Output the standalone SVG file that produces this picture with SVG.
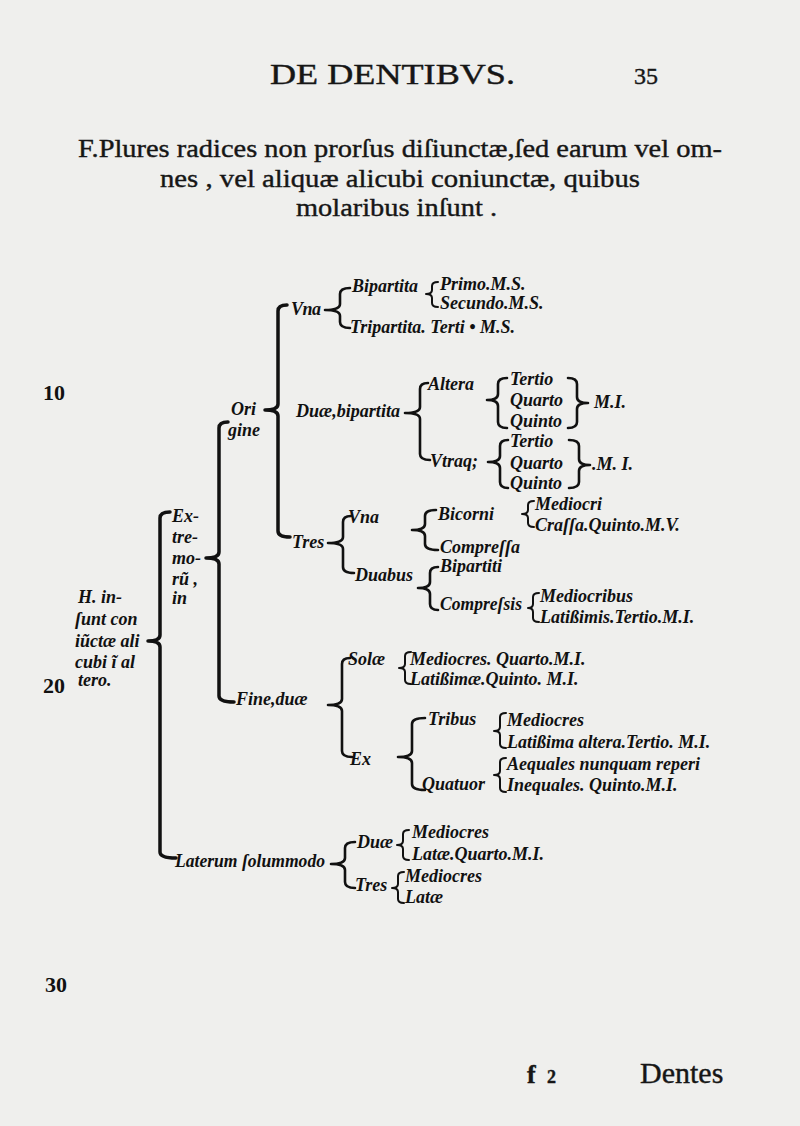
<svg xmlns="http://www.w3.org/2000/svg" width="800" height="1126" viewBox="0 0 800 1126">
<style>
.bg{fill:#efefed}
.hd{font-family:"Liberation Serif",serif;fill:#161616;stroke:#161616;stroke-width:0.4}
.t{font-family:"Liberation Serif",serif;font-style:italic;font-weight:bold;font-size:18px;fill:#111}
.num{font-family:"Liberation Serif",serif;font-weight:bold;font-size:22px;fill:#111}
.b{fill:none;stroke:#111;stroke-width:3.5;stroke-linecap:round;stroke-linejoin:round}
.m{fill:none;stroke:#111;stroke-width:2.6;stroke-linecap:round;stroke-linejoin:round}
.s{fill:none;stroke:#111;stroke-width:2;stroke-linecap:round;stroke-linejoin:round}
</style>
<rect class="bg" x="0" y="0" width="800" height="1126"/>

<g id="header">
<text class="hd" x="270" y="84" font-size="30" textLength="245" lengthAdjust="spacingAndGlyphs">DE DENTIBVS.</text>
<text class="hd" x="634" y="84" font-size="24">35</text>
</g>

<g id="title">
<text class="hd" x="78" y="157" font-size="26" textLength="644" lengthAdjust="spacingAndGlyphs">F.Plures radices non prorſus diſiunctæ,ſed earum vel om-</text>
<text class="hd" x="160" y="187" font-size="26" textLength="480" lengthAdjust="spacingAndGlyphs">nes , vel aliquæ alicubi coniunctæ, quibus</text>
<text class="hd" x="296" y="216" font-size="26" textLength="201" lengthAdjust="spacingAndGlyphs">molaribus inſunt .</text>
</g>

<g id="line-numbers">
<text class="num" x="43" y="400">10</text>
<text class="num" x="43" y="693">20</text>
<text class="num" x="45" y="992">30</text>
</g>

<g id="connectors">
<path class="b" d="M170 512 Q160 512 160 518 L160 635 Q160 641 148 641 Q160 641 160 647 L160 852 Q160 858 176 858"/>
<path class="b" d="M228 422 Q219 422 219 428 L219 552 Q219 558 206 558 Q219 558 219 564 L219 696 Q219 702 234 702"/>
<path class="b" d="M287 305 Q278 305 278 311 L278 404 Q278 410 265 410 Q278 410 278 416 L278 531 Q278 537 290 537"/>
<path class="m" d="M350 288 Q340 288 340 294 L340 304 Q340 310 325 310 Q340 310 340 316 L340 322 Q340 328 350 328"/>
<path class="s" d="M438 282 Q432 282 432 286 L432 290 Q432 294 426 294 Q432 294 432 298 L432 303 Q432 307 438 307"/>
<path class="m" d="M428 383 Q420 383 420 389 L420 407 Q420 413 405 413 Q420 413 420 419 L420 454 Q420 460 430 460"/>
<path class="m" d="M507 378 Q498 378 498 384 L498 394 Q498 400 487 400 Q498 400 498 406 L498 422 Q498 428 507 428"/>
<path class="m" d="M568 378 Q577 378 577 384 L577 397 Q577 403 588 403 Q577 403 577 409 L577 422 Q577 428 568 428"/>
<path class="m" d="M508 440 Q500 440 500 446 L500 456 Q500 462 488 462 Q500 462 500 468 L500 482 Q500 488 508 488"/>
<path class="m" d="M569 440 Q579 440 579 446 L579 459 Q579 465 590 465 Q579 465 579 471 L579 482 Q579 488 569 488"/>
<path class="m" d="M351 516 Q343 516 343 522 L343 537 Q343 543 328 543 Q343 543 343 549 L343 567 Q343 573 354 573"/>
<path class="m" d="M436 510 Q425 510 425 516 L425 524 Q425 530 412 530 Q425 530 425 536 L425 544 Q425 550 438 550"/>
<path class="s" d="M534 501 Q528 501 528 505 L528 510 Q528 514 522 514 Q528 514 528 518 L528 523 Q528 527 534 527"/>
<path class="m" d="M438 567 Q430 567 430 573 L430 582 Q430 588 418 588 Q430 588 430 594 L430 604 Q430 610 438 610"/>
<path class="s" d="M539 593 Q533 593 533 597 L533 604 Q533 608 528 608 Q533 608 533 612 L533 618 Q533 622 539 622"/>
<path class="m" d="M350 658 Q342 658 342 664 L342 699 Q342 705 328 705 Q342 705 342 711 L342 751 Q342 757 352 757"/>
<path class="s" d="M411 652 Q405 652 405 656 L405 664 Q405 668 399 668 Q405 668 405 672 L405 680 Q405 684 411 684"/>
<path class="m" d="M425 718 Q412 718 412 724 L412 751 Q412 757 398 757 Q412 757 412 763 L412 784 Q412 790 425 790"/>
<path class="s" d="M506 713 Q500 713 500 717 L500 727 Q500 731 494 731 Q500 731 500 735 L500 744 Q500 748 506 748"/>
<path class="s" d="M506 758 Q500 758 500 762 L500 771 Q500 775 494 775 Q500 775 500 779 L500 788 Q500 792 506 792"/>
<path class="m" d="M355 842 Q345 842 345 848 L345 858 Q345 864 331 864 Q345 864 345 870 L345 882 Q345 888 355 888"/>
<path class="s" d="M409 830 Q403 830 403 834 L403 841 Q403 845 397 845 Q403 845 403 849 L403 856 Q403 860 409 860"/>
<path class="s" d="M404 872 Q398 872 398 876 L398 884 Q398 888 392 888 Q398 888 398 892 L398 899 Q398 903 404 903"/>
</g>

<g id="node-root">
<text class="t" x="78" y="603">H. in-</text>
<text class="t" x="75" y="625">ſunt con</text>
<text class="t" x="75" y="647">iũctæ ali</text>
<text class="t" x="75" y="668">cubi ĩ al</text>
<text class="t" x="78" y="686">tero.</text>
</g>

<g id="node-extremorum">
<text class="t" x="172" y="522">Ex-</text>
<text class="t" x="172" y="543">tre-</text>
<text class="t" x="172" y="564">mo-</text>
<text class="t" x="172" y="585">rũ ,</text>
<text class="t" x="172" y="604">in</text>
</g>

<g id="node-origine">
<text class="t" x="231" y="415">Ori</text>
<text class="t" x="228" y="436">gine</text>
</g>

<g id="node-vna"><text class="t" x="291" y="315" textLength="30">Vna</text></g>
<g id="node-bipartita"><text class="t" x="352" y="292">Bipartita</text></g>
<g id="node-primo"><text class="t" x="440" y="290" font-size="15">Primo.M.S.</text></g>
<g id="node-secundo"><text class="t" x="440" y="309" font-size="15">Secundo.M.S.</text></g>
<g id="node-tripartita"><text class="t" x="350" y="333">Tripartita. Terti • M.S.</text></g>

<g id="node-duae-bipartita"><text class="t" x="296" y="417" textLength="104" lengthAdjust="spacingAndGlyphs">Duæ,bipartita</text></g>
<g id="node-altera"><text class="t" x="428" y="390">Altera</text></g>
<g id="node-altera-list">
<text class="t" x="510" y="385">Tertio</text>
<text class="t" x="510" y="406">Quarto</text>
<text class="t" x="510" y="427">Quinto</text>
</g>
<g id="node-altera-mi"><text class="t" x="594" y="408">M.I.</text></g>
<g id="node-vtraq"><text class="t" x="430" y="467">Vtraq;</text></g>
<g id="node-vtraq-list">
<text class="t" x="510" y="447">Tertio</text>
<text class="t" x="510" y="469">Quarto</text>
<text class="t" x="510" y="489">Quinto</text>
</g>
<g id="node-vtraq-mi"><text class="t" x="592" y="470">.M. I.</text></g>

<g id="node-tres"><text class="t" x="292" y="548">Tres</text></g>
<g id="node-tres-vna"><text class="t" x="348" y="523">Vna</text></g>
<g id="node-bicorni"><text class="t" x="438" y="520">Bicorni</text></g>
<g id="node-mediocri"><text class="t" x="535" y="510" font-size="16">Mediocri</text></g>
<g id="node-crassa"><text class="t" x="535" y="531">Craſſa.Quinto.M.V.</text></g>
<g id="node-compressa"><text class="t" x="440" y="553">Compreſſa</text></g>
<g id="node-duabus"><text class="t" x="355" y="581">Duabus</text></g>
<g id="node-bipartiti"><text class="t" x="440" y="572" font-size="16">Bipartiti</text></g>
<g id="node-compressis"><text class="t" x="440" y="610" textLength="82" lengthAdjust="spacingAndGlyphs">Compreſsis</text></g>
<g id="node-mediocribus"><text class="t" x="540" y="602">Mediocribus</text></g>
<g id="node-latissimis"><text class="t" x="540" y="623">Latißimis.Tertio.M.I.</text></g>

<g id="node-fine-duae"><text class="t" x="236" y="705">Fine,duæ</text></g>
<g id="node-solae"><text class="t" x="348" y="665">Solæ</text></g>
<g id="node-solae-mediocres"><text class="t" x="410" y="665">Mediocres. Quarto.M.I.</text></g>
<g id="node-solae-latissimae"><text class="t" x="410" y="685">Latißimæ.Quinto. M.I.</text></g>
<g id="node-ex"><text class="t" x="350" y="765">Ex</text></g>
<g id="node-tribus"><text class="t" x="428" y="725">Tribus</text></g>
<g id="node-tribus-mediocres"><text class="t" x="507" y="726">Mediocres</text></g>
<g id="node-tribus-latissima"><text class="t" x="507" y="748">Latißima altera.Tertio. M.I.</text></g>
<g id="node-quatuor"><text class="t" x="422" y="790">Quatuor</text></g>
<g id="node-aequales"><text class="t" x="507" y="770">Aequales nunquam reperi</text></g>
<g id="node-inequales"><text class="t" x="507" y="791">Inequales. Quinto.M.I.</text></g>

<g id="node-laterum"><text class="t" x="175" y="867" textLength="150" lengthAdjust="spacingAndGlyphs">Laterum ſolummodo</text></g>
<g id="node-laterum-duae"><text class="t" x="357" y="848">Duæ</text></g>
<g id="node-laterum-duae-mediocres"><text class="t" x="412" y="838">Mediocres</text></g>
<g id="node-laterum-duae-latae"><text class="t" x="412" y="860">Latæ.Quarto.M.I.</text></g>
<g id="node-laterum-tres"><text class="t" x="355" y="891">Tres</text></g>
<g id="node-laterum-tres-mediocres"><text class="t" x="405" y="882">Mediocres</text></g>
<g id="node-laterum-tres-latae"><text class="t" x="405" y="903">Latæ</text></g>

<g id="footer">
<text class="hd" x="527" y="1083" font-size="26" font-weight="bold">f</text>
<text class="hd" x="547" y="1083" font-size="18" font-weight="bold">2</text>
<text class="hd" x="640" y="1083" font-size="30">Dentes</text>
</g>
</svg>
